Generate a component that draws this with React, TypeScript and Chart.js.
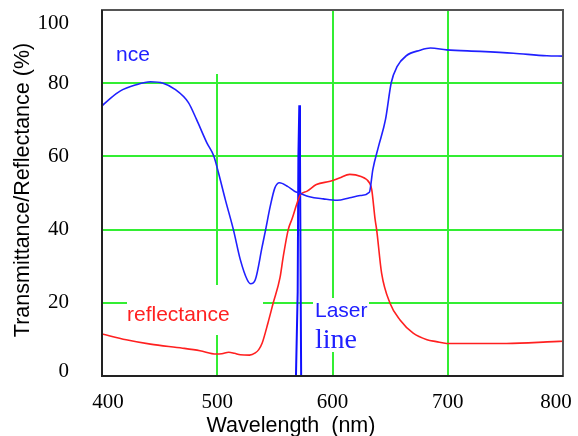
import React, { useEffect, useRef } from "react";
import { Chart, registerables } from "chart.js";

Chart.register(...registerables);

// Transmittance (blue)
const transWl = [400, 407, 416, 429, 442, 453, 463, 475, 482, 491, 497, 501, 507, 514, 520, 526, 529, 533, 539, 542, 546, 550, 554, 561, 567, 572, 580, 592, 604, 615, 624, 632, 635, 640, 646, 651, 656, 664, 676, 685, 699, 728, 757, 786, 800];
const transPct = [73.8, 75.8, 77.9, 79.5, 80.4, 80, 78.4, 74.7, 70.1, 63.7, 60.1, 55.6, 48.2, 40, 31.8, 26.3, 25.2, 26.3, 35.4, 40, 46.4, 51.4, 52.8, 51.8, 50.5, 49.9, 49, 48.4, 48, 48.7, 49.3, 50.2, 56.4, 62.8, 70.1, 80.2, 84.5, 87.5, 89, 89.6, 89.1, 88.7, 88.2, 87.5, 87.4];

// Reflectance (red)
const reflWl = [400, 421, 442, 470, 485, 499, 504, 510, 515, 520, 528, 533, 536, 539, 544, 548.6, 554.4, 557.3, 561.6, 565, 569, 572, 578, 586, 598, 606, 615, 624, 632, 634, 637, 638.3, 642.6, 649.9, 658.6, 670, 682, 690, 699, 751, 792, 800];
const reflPct = [11.5, 9.9, 8.7, 7.6, 6.9, 6.0, 6.1, 6.5, 6.2, 5.8, 5.7, 6.3, 7.2, 9, 14.5, 20, 26.8, 32.7, 40, 43, 47, 49.5, 50.5, 52.3, 53.2, 54.1, 55.1, 54.6, 52.8, 51, 42.7, 40, 28.1, 19.9, 15.3, 11.7, 9.9, 9.4, 8.9, 8.9, 9.4, 9.5];

// Laser line (blue spike)
const laserWl = [566.5, 568.3, 569.8, 570.4, 571.2, 571.8, 572.4, 572.8, 574.5];
const laserPct = [0, 0, 23, 60, 74, 60, 23, 0, 0];

const xTicks = [400, 500, 600, 700, 800];
const yTicks = [0, 20, 40, 60, 80, 100];

const SANS = '"Liberation Sans", Arial, sans-serif';
const SERIF = '"Liberation Serif", "Times New Roman", serif';
const GREEN = "#33ee33";
const BLUE = "#2020ff";
const RED = "#ff2020";

export default function App() {
  const ref = useRef<HTMLCanvasElement>(null);

  useEffect(() => {
    const canvas = ref.current!;
    const pts = (xs: number[], ys: number[]) => xs.map((x, i) => ({ x, y: ys[i] }));

    const overlay = {
      id: "overlay",
      beforeDatasetsDraw(chart: any) {
        const ctx = chart.ctx;
        ctx.save();
        ctx.fillStyle = "#ffffff";
        ctx.fillRect(103, 11, 179, 63);
        ctx.fillRect(127, 285, 136, 50);
        ctx.fillRect(313, 298, 56, 54);
        ctx.restore();
      },
      afterDatasetsDraw(chart: any) {
        const ctx = chart.ctx;
        const a = chart.chartArea;
        const xs = chart.scales.x;
        const ys = chart.scales.y;
        ctx.save();
        // frame
        ctx.strokeStyle = "#555555";
        ctx.lineWidth = 2;
        ctx.strokeRect(a.left, a.top, a.right - a.left, a.bottom - a.top);
        ctx.strokeStyle = "#222222";
        ctx.beginPath();
        ctx.moveTo(a.left, a.top);
        ctx.lineTo(a.left, a.bottom);
        ctx.lineTo(a.right, a.bottom);
        ctx.stroke();

        // y tick labels
        ctx.fillStyle = "#000";
        ctx.font = `21px ${SERIF}`;
        ctx.textAlign = "right";
        ctx.textBaseline = "middle";
        yTicks.forEach((v) => {
          let y = ys.getPixelForValue(v);
          y = Math.max(a.top + 13, Math.min(a.bottom - 5, y));
          ctx.fillText(String(v), 69, y);
        });
        // x tick labels
        ctx.textAlign = "center";
        ctx.textBaseline = "alphabetic";
        xTicks.forEach((v) => {
          let x = xs.getPixelForValue(v);
          x = Math.max(a.left + 6, Math.min(a.right - 7, x));
          ctx.fillText(String(v), x, 408);
        });

        // axis titles
        ctx.font = `21.5px ${SANS}`;
        ctx.fillText("Wavelength  (nm)", 291, 432);
        ctx.save();
        ctx.translate(23, 190);
        ctx.rotate(-Math.PI / 2);
        ctx.textBaseline = "middle";
        ctx.fillText("Transmittance/Reflectance (%)", 0, 0);
        ctx.restore();

        // annotations
        ctx.textAlign = "left";
        ctx.textBaseline = "alphabetic";
        ctx.fillStyle = BLUE;
        ctx.font = `21px ${SANS}`;
        ctx.fillText("nce", 116, 61);
        ctx.fillText("Laser", 315, 317);
        ctx.font = `28px ${SERIF}`;
        ctx.fillText("line", 315, 348);
        ctx.fillStyle = RED;
        ctx.font = `21px ${SANS}`;
        ctx.fillText("reflectance", 127, 321);
        ctx.restore();
      },
    };

    const gridColor = (lo: number, hi: number) => (c: any) =>
      c.tick && c.tick.value > lo && c.tick.value < hi ? GREEN : "rgba(0,0,0,0)";

    const chart = new Chart(canvas, {
      type: "line",
      data: {
        datasets: [
          {
            label: "Transmittance",
            data: pts(transWl, transPct),
            borderColor: BLUE,
            borderWidth: 1.6,
            pointRadius: 0,
            cubicInterpolationMode: "monotone",
            fill: false,
          },
          {
            label: "Reflectance",
            data: pts(reflWl, reflPct),
            borderColor: RED,
            borderWidth: 1.6,
            pointRadius: 0,
            cubicInterpolationMode: "monotone",
            fill: false,
          },
          {
            label: "Laser line",
            data: pts(laserWl, laserPct),
            borderColor: "#1010ff",
            borderWidth: 2,
            pointRadius: 0,
            tension: 0,
            fill: false,
          },
        ],
      },
      options: {
        animation: false,
        responsive: false,
        devicePixelRatio: 1,
        layout: { padding: { left: 0, right: 15, top: 10, bottom: 0 } },
        plugins: { legend: { display: false }, tooltip: { enabled: false } },
        scales: {
          x: {
            type: "linear",
            min: 400,
            max: 800,
            afterBuildTicks: (s: any) => {
              s.ticks = xTicks.map((v) => ({ value: v }));
            },
            afterFit: (s: any) => {
              s.height = 60;
            },
            ticks: { display: false },
            grid: { color: gridColor(400, 800), lineWidth: 2, drawTicks: false },
            border: { display: false },
          },
          y: {
            type: "linear",
            min: 0,
            max: 100,
            afterBuildTicks: (s: any) => {
              s.ticks = yTicks.map((v) => ({ value: v }));
            },
            afterFit: (s: any) => {
              s.width = 102;
            },
            ticks: { display: false },
            grid: { color: gridColor(0, 100), lineWidth: 2, drawTicks: false },
            border: { display: false },
          },
        },
      },
      plugins: [overlay],
    } as any);

    return () => chart.destroy();
  }, []);

  return (
    <div style={{ position: "fixed", left: 0, top: 0, width: 578, height: 436, background: "#fff" }}>
      <canvas ref={ref} width={578} height={436} style={{ display: "block" }} />
    </div>
  );
}
